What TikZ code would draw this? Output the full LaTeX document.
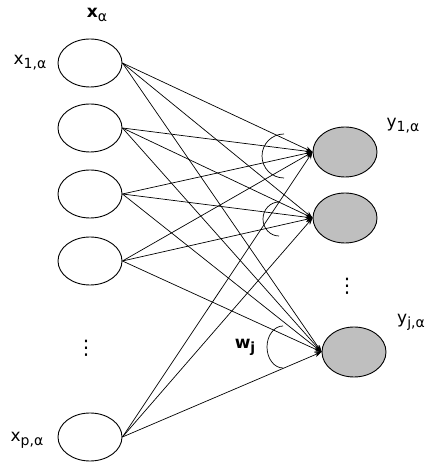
\documentclass[tikz,border=0pt]{standalone}
\usepackage{fontspec}
\setmainfont{DejaVu Sans}
\usetikzlibrary{arrows.meta,shapes.geometric}

\newcommand{\lsub}[1]{\raisebox{-4pt}{\fontsize{14}{14}\selectfont #1}}

\tikzset{
  innode/.style={draw, ellipse, line width=0.9pt, minimum width=64pt, minimum height=48pt, inner sep=0pt},
  outnode/.style={innode, fill=black!25, minimum height=50pt},
  link/.style={line width=0.7pt, -{Stealth[length=7pt,width=5pt]}},
  warc/.style={line width=0.7pt},
  lbl/.style={font=\fontsize{17}{19}\selectfont, inner sep=0pt},
}

\begin{document}
\begin{tikzpicture}[x=1pt, y=1pt]
  \useasboundingbox (0,0) rectangle (432,468);

  % input layer
  \node[innode] (in1) at (90,405) {};
  \node[innode] (in2) at (90,340) {};
  \node[innode] (in3) at (90,274) {};
  \node[innode] (in4) at (90,207) {};
  \node[innode] (inp) at (90,31) {};

  % output layer
  \node[outnode] (out1) at (345,316) {};
  \node[outnode] (out2) at (345,250) {};
  \node[outnode] (outj) at (354,116) {};

  % every input to every output
  \foreach \i in {in1,in2,in3,in4,inp} {
    \foreach \o in {out1,out2,outj} {
      \draw[link] (\i.east) -- (\o.west);
    }
  }

  % weight arcs
  \draw[warc] (284,334) arc[start angle=90, end angle=270, x radius=22, y radius=22];
  \draw[warc] (279,266) arc[start angle=90, end angle=270, x radius=16, y radius=17];
  \draw[warc] (283,142) arc[start angle=90, end angle=270, x radius=16, y radius=21];

  % labels
  \node[lbl] (xa) at (97,453) {\textbf{x}\lsub{α}};
  \node[lbl] (x1) at (30,405) {x\lsub{1,α}};
  \node[lbl] (xp) at (27,28) {x\lsub{p,α}};
  \node[lbl] (y1) at (403,342) {y\lsub{1,α}};
  \node[lbl] (yj) at (411,146) {y\lsub{j,α}};
  \node[lbl] (wj) at (245,121) {\textbf{w\lsub{j}}};
  \node[font=\fontsize{20}{20}\selectfont, inner sep=0pt] (dl) at (86,120) {⋮};
  \node[font=\fontsize{20}{20}\selectfont, inner sep=0pt] (dr) at (347,182) {⋮};
\end{tikzpicture}
\end{document}
